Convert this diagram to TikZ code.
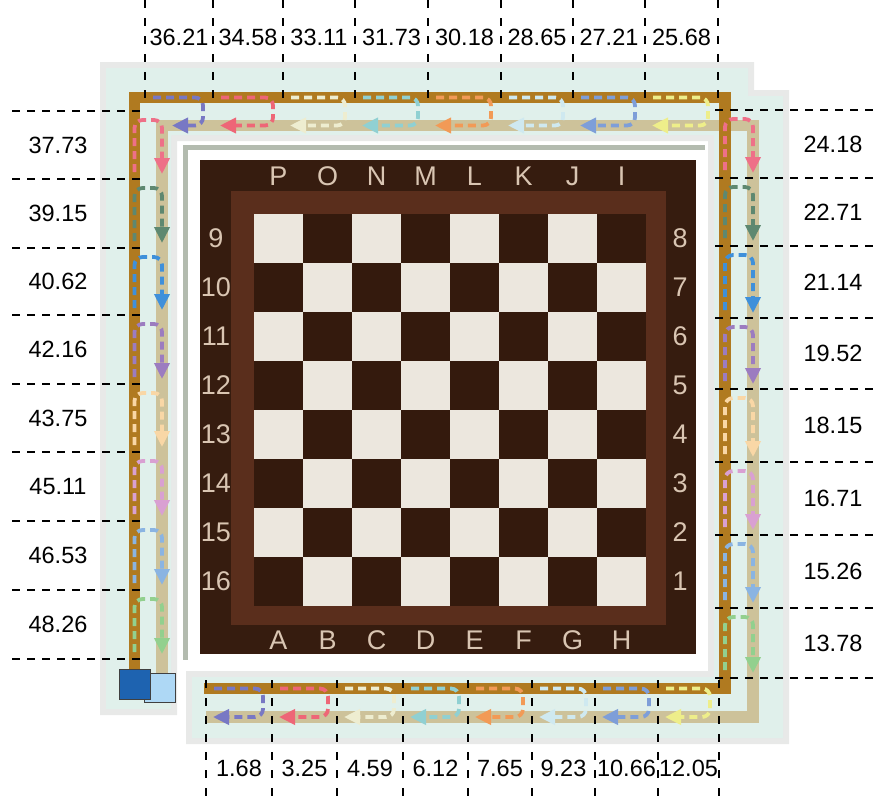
\documentclass[tikz,border=0pt]{standalone}
\usepackage{fontspec}
\setmainfont{Liberation Sans}
\usetikzlibrary{arrows.meta}
\definecolor{lanebrown}{HTML}{B07A20}
\definecolor{lanebeige}{HTML}{CDC29A}
\definecolor{bandteal}{HTML}{E0F0EB}
\definecolor{bandgrey}{HTML}{E8E9E8}
\definecolor{frameline}{HTML}{B3BBAF}
\definecolor{boarddark}{HTML}{361C0F}
\definecolor{boardmid}{HTML}{5A2E1C}
\definecolor{sqlight}{HTML}{ECE7DE}
\definecolor{sqdark}{HTML}{341A0D}
\definecolor{boardtext}{HTML}{D9C5B2}
\definecolor{bluedark}{HTML}{1E63B0}
\definecolor{bluelight}{HTML}{AED8F5}
\definecolor{cPurple}{HTML}{7878C4}
\definecolor{cRed}{HTML}{EE6677}
\definecolor{cCream}{HTML}{EEEDD0}
\definecolor{cTeal}{HTML}{90D0D2}
\definecolor{cOrange}{HTML}{F29A56}
\definecolor{cLtCyan}{HTML}{CFE9F0}
\definecolor{cBlue}{HTML}{7E9ED8}
\definecolor{cYellow}{HTML}{EEEE8A}
\definecolor{sPink}{HTML}{EE7088}
\definecolor{sGreen}{HTML}{5E8870}
\definecolor{sBlue}{HTML}{3F90DA}
\definecolor{sPurple}{HTML}{9C7CC0}
\definecolor{sPeach}{HTML}{F9D7A6}
\definecolor{sLilac}{HTML}{D9A0D2}
\definecolor{sLtBlue}{HTML}{8AB4E2}
\definecolor{sLtGreen}{HTML}{92D08E}
\tikzset{
  seg/.style={draw=#1, line width=3.8pt, dash pattern=on 8pt off 5pt, rounded corners=8pt,
    -{Triangle[length=16pt,width=15pt]}},
  vdash/.style={draw=black, line width=2.2pt, dash pattern=on 8pt off 10pt},
  hdash/.style={draw=black, line width=2.2pt, dash pattern=on 8.3pt off 6.7pt},
  numlbl/.style={font=\fontsize{23.5}{27}\selectfont, text=black, inner sep=0pt},
  brdlbl/.style={font=\fontsize{27}{30}\selectfont, text=boardtext, inner sep=0pt},
  lane/.style={line width=11.5pt, line cap=butt, line join=miter}
}
\begin{document}
\begin{tikzpicture}[x=1pt,y=-1pt]
\useasboundingbox (0,0) rectangle (875,796);
% background bands
\fill[bandgrey] (100,62) -- (754,62) -- (754,141) -- (177,141) -- (177,715) -- (100,715) -- cycle;
\fill[bandgrey] (708,90) -- (789,90) -- (789,744) -- (186,744) -- (186,671) -- (708,671) -- cycle;
\fill[bandteal] (106,68) -- (748,68) -- (748,135) -- (171,135) -- (171,709) -- (106,709) -- cycle;
\fill[bandteal] (714,96) -- (783,96) -- (783,738) -- (192,738) -- (192,677) -- (714,677) -- cycle;
% frame lines near board
\fill[frameline] (183,145) rectangle (705,150);
\fill[frameline] (183,145) rectangle (188,660);
% board
\fill[boarddark] (200,160) rectangle (696,654);
\fill[boardmid] (231,191) rectangle (666,625);
\fill[sqdark] (254,214) rectangle (646,606);
\foreach \i in {0,...,7}{
  \foreach \j in {0,...,7}{
    \pgfmathtruncatemacro{\parity}{mod(\i+\j,2)}
    \ifnum\parity=0
      \fill[sqlight] ({254+49*\i},{214+49*\j}) rectangle ++(49,49);
    \fi
  }
}
\foreach \t [count=\i] in {P,O,N,M,L,K,J,I}
  \node[brdlbl] (bt\i) at ({278.5+49*(\i-1)},176) {\t};
\foreach \t [count=\i] in {A,B,C,D,E,F,G,H}
  \node[brdlbl] (bb\i) at ({278.5+49*(\i-1)},640) {\t};
\foreach \t [count=\i] in {9,10,11,12,13,14,15,16}
  \node[brdlbl] (bl\i) at (216,{238.5+49*(\i-1)}) {\t};
\foreach \t [count=\i] in {8,7,6,5,4,3,2,1}
  \node[brdlbl] (br\i) at (680,{238.5+49*(\i-1)}) {\t};
% lanes
\draw[lane, lanebeige] (162,673) -- (162,125.5) -- (753,125.5) -- (753,717) -- (206,717);
\draw[lane, lanebrown] (134.5,672) -- (134.5,97.5) -- (725,97.5) -- (725,688.5) -- (204,688.5);
% start squares
\filldraw[fill=bluelight, draw=black!75, line width=1pt] (144,673) rectangle (175,702);
\filldraw[fill=bluedark, draw=black!75, line width=1pt] (119,669) rectangle (150,699);
% top segments
\foreach \xl/\xr/\c/\tip in {145/213/cPurple/172, 213/283/cRed/220, 283/355/cCream/290,
  355/428/cTeal/362, 428/501/cOrange/435, 501/573/cLtCyan/508, 573/645/cBlue/580, 645/718/cYellow/652}
  \draw[seg=\c] (\xl+8,97.5) -- (\xr-10,97.5) -- (\xr-10,125.5) -- (\tip,125.5);
% bottom segments
\foreach \xl/\xr/\c in {206/272/cPurple, 272/337/cRed, 337/403/cCream, 403/468/cTeal,
  468/532/cOrange, 532/595/cLtCyan, 595/658/cBlue, 658/719/cYellow}
  \draw[seg=\c] (\xl+8,688.5) -- (\xr-9,688.5) -- (\xr-9,717) -- (\xl+7,717);
% right segments
\foreach \yt/\yb/\c in {110/178/sPink, 178/246/sGreen, 246/318/sBlue, 318/389/sPurple,
  389/462/sPeach, 462/535/sLilac, 535/608/sLtBlue, 608/678/sLtGreen}
  \draw[seg=\c] (725,\yb-8) -- (725,\yt+9) -- (753,\yt+9) -- (753,\yb-5);
% left segments
\foreach \yt/\yb/\c in {111/179/sPink, 179/248/sGreen, 248/315/sBlue, 315/384/sPurple,
  384/452/sPeach, 452/521/sLilac, 521/590/sLtBlue, 590/659/sLtGreen}
  \draw[seg=\c] (134.5,\yb-7) -- (134.5,\yt+9) -- (162,\yt+9) -- (162,\yb-5);
% dashed guide lines
\foreach \x in {145,213,283,355,428,501,573,645,718}
  \draw[vdash] (\x,0) -- (\x,105);
\foreach \x in {206,272,337,403,468,532,595,658,719}
  \draw[vdash] (\x,680) -- (\x,796);
\foreach \y in {111,179,248,315,384,452,521,590,659}
  \draw[hdash] (12,\y) -- (146,\y);
\foreach \y in {110,178,246,318,389,462,535,608,678}
  \draw[hdash] (715,\y) -- (875,\y);
% value labels
\foreach \x/\t [count=\i] in {179/36.21, 248/34.58, 319/33.11, 391.5/31.73, 464.5/30.18, 537/28.65, 609/27.21, 681.5/25.68}
  \node[numlbl] (top\i) at (\x,37) {\t};
\foreach \x/\t [count=\i] in {239/1.68, 304.5/3.25, 370/4.59, 435.5/6.12, 500/7.65, 563.5/9.23, 626.5/10.66, 688.5/12.05}
  \node[numlbl] (bot\i) at (\x,768) {\t};
\foreach \y/\t [count=\i] in {145/37.73, 213.5/39.15, 281.5/40.62, 349.5/42.16, 418/43.75, 486.5/45.11, 555.5/46.53, 624.5/48.26}
  \node[numlbl] (lft\i) at (58,\y) {\t};
\foreach \y/\t [count=\i] in {144/24.18, 212/22.71, 282/21.14, 353.5/19.52, 425.5/18.15, 498.5/16.71, 571.5/15.26, 643/13.78}
  \node[numlbl] (rgt\i) at (833,\y) {\t};
\end{tikzpicture}
\end{document}
